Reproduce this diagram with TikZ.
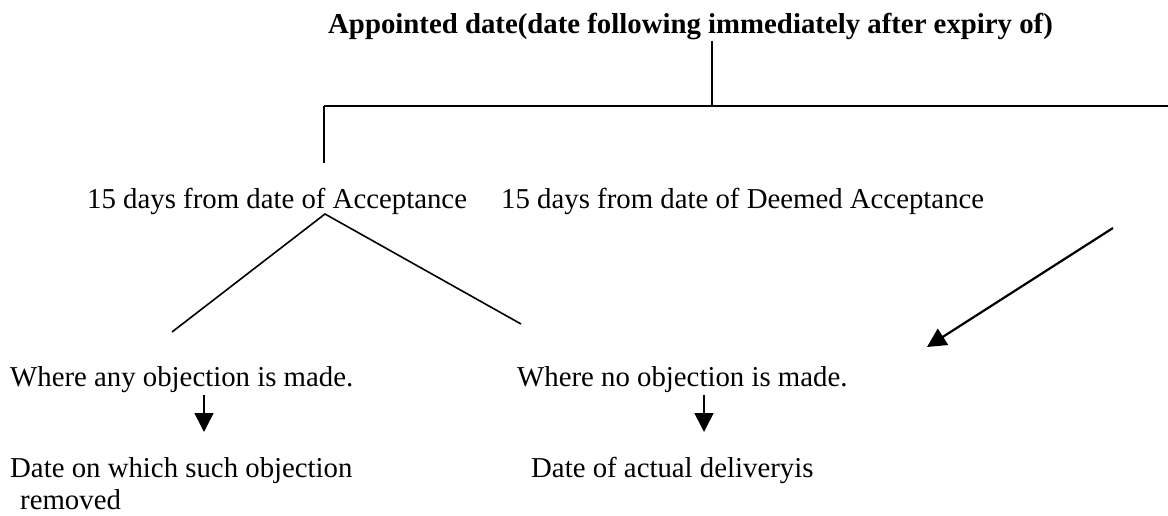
\documentclass[tikz,border=0pt]{standalone}
\usepackage{fontspec}
\setmainfont{Liberation Serif}
\usetikzlibrary{arrows.meta}
\begin{document}
\begin{tikzpicture}[x=1pt,y=-1pt,
  lbl/.style={anchor=base west,inner sep=0pt,font=\fontsize{28.8}{34}\selectfont},
  ttl/.style={anchor=base west,inner sep=0pt,font=\fontsize{28.8}{34}\selectfont\bfseries},
  ln/.style={line width=1.6pt},
  hln/.style={line width=2pt},
  arr/.style={line width=1.6pt,-{Triangle[length=19pt,width=19pt]}},
  larr/.style={line width=2.2pt,-{Triangle[length=19pt,width=19pt]}},
]
\useasboundingbox[fill=white] (0,0) rectangle (1168,516);
% texts
\node[ttl] (title) at (328,34) {Appointed date(date following immediately after expiry of)};
\node[lbl] (acc) at (87,208) {15 days from date of Acceptance};
\node[lbl] (deemed) at (501,208) {15 days from date of Deemed Acceptance};
\node[lbl] (anyobj) at (10,386) {Where any objection is made.};
\node[lbl] (noobj) at (517,386) {Where no objection is made.};
\node[lbl] (remA) at (10,477) {Date on which such objection};
\node[lbl] (remB) at (20,509) {removed};
\node[lbl] (delivery) at (531,477) {Date of actual deliveryis};
% coordinates
\coordinate (tj) at (712,106);
\coordinate (hl) at (324,106);
\coordinate (hr) at (1168,106);
\coordinate (lb) at (324,163);
\coordinate (apex) at (325,214);
\coordinate (vl) at (172,332);
\coordinate (vr) at (521,324);
\coordinate (as) at (1113,228);
\coordinate (ae) at (927,347);
\coordinate (a1s) at (204,395);
\coordinate (a1e) at (204,432);
\coordinate (a2s) at (704,395);
\coordinate (a2e) at (704,432);
% connectors
\draw[hln] (title.south -| tj) -- (tj);
\draw[hln] (hl) -- (hr);
\draw[hln] (hl) -- (lb);
\draw[ln] (vl) -- (apex) -- (vr);
\draw[larr] (as) -- (ae);
\draw[arr] (a1s) -- (a1e);
\draw[arr] (a2s) -- (a2e);
\end{tikzpicture}
\end{document}
